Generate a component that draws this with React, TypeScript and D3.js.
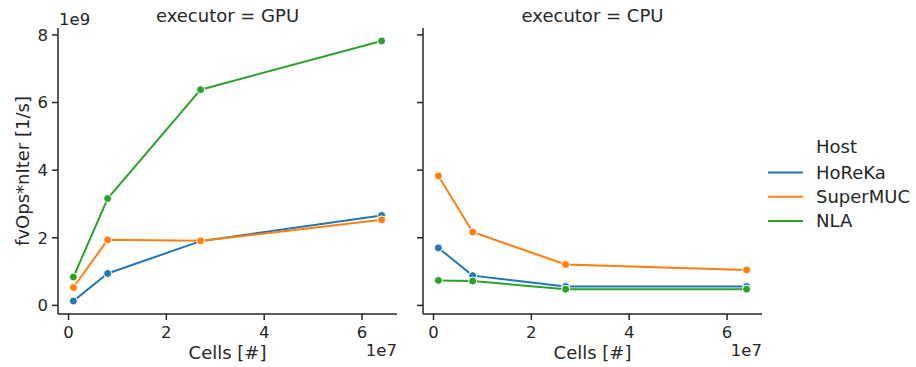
import React from "react";
import * as d3 from "d3";

const cells = [1e6, 8e6, 2.7e7, 6.4e7];
const hosts = ["HoReKa", "SuperMUC", "NLA"];
const colors = ["#1f77b4", "#ff7f0e", "#2ca02c"];
const gpuHoReKa = [0.13e9, 0.945e9, 1.9e9, 2.66e9];
const gpuSuperMUC = [0.53e9, 1.94e9, 1.91e9, 2.53e9];
const gpuNLA = [0.84e9, 3.16e9, 6.38e9, 7.82e9];
const cpuHoReKa = [1.7e9, 0.88e9, 0.56e9, 0.56e9];
const cpuSuperMUC = [3.83e9, 2.17e9, 1.21e9, 1.05e9];
const cpuNLA = [0.74e9, 0.72e9, 0.48e9, 0.48e9];
const xTicks = [0, 2e7, 4e7, 6e7];
const yTicks = [0, 2e9, 4e9, 6e9, 8e9];

const panels = [
  { title: "executor = GPU", left: 58, right: 397, series: [gpuHoReKa, gpuSuperMUC, gpuNLA], showY: true },
  { title: "executor = CPU", left: 423, right: 762, series: [cpuHoReKa, cpuSuperMUC, cpuNLA], showY: false },
];

const W = 916;
const H = 367;
const top = 28;
const bottom = 314;
const ink = "#262626";
const font = "DejaVu Sans, sans-serif";
const tickFs = 16.5;
const labelFs = 18;

const App = () => {
  const all = [...gpuHoReKa, ...gpuSuperMUC, ...gpuNLA, ...cpuHoReKa, ...cpuSuperMUC, ...cpuNLA];
  const [ymin, ymax] = d3.extent(all) as [number, number];
  const ypad = (ymax - ymin) * 0.05;
  const yScale = d3.scaleLinear().domain([ymin - ypad, ymax + ypad]).range([bottom, top]);
  const [xmin, xmax] = d3.extent(cells) as [number, number];
  const xpad = (xmax - xmin) * 0.05;

  return (
    <svg width={W} height={H} style={{ position: "absolute", left: 0, top: 0, background: "white" }} fontFamily={font}>
      {panels.map((p, pi) => {
        const xScale = d3.scaleLinear().domain([xmin - xpad, xmax + xpad]).range([p.left, p.right]);
        const line = d3
          .line<number>()
          .x((d, i) => xScale(cells[i]))
          .y((d) => yScale(d));
        const cx = (p.left + p.right) / 2;
        return (
          <g key={pi}>
            <text x={cx} y={21.5} textAnchor="middle" fontSize={labelFs} fill={ink}>
              {p.title}
            </text>
            {/* spines */}
            <line x1={p.left} x2={p.left} y1={top} y2={bottom} stroke={ink} strokeWidth={1.5} />
            <line x1={p.left} x2={p.right} y1={bottom} y2={bottom} stroke={ink} strokeWidth={1.5} />
            {yTicks.map((t) => (
              <g key={t}>
                <line x1={p.left - 6} x2={p.left} y1={yScale(t)} y2={yScale(t)} stroke={ink} strokeWidth={1.5} />
                {p.showY && (
                  <text x={p.left - 10} y={yScale(t)} dy="0.36em" textAnchor="end" fontSize={tickFs} fill={ink}>
                    {t / 1e9}
                  </text>
                )}
              </g>
            ))}
            {xTicks.map((t) => (
              <g key={t}>
                <line x1={xScale(t)} x2={xScale(t)} y1={bottom} y2={bottom + 6} stroke={ink} strokeWidth={1.5} />
                <text x={xScale(t)} y={337.5} textAnchor="middle" fontSize={tickFs} fill={ink}>
                  {t / 1e7}
                </text>
              </g>
            ))}
            <text x={cx} y={359} textAnchor="middle" fontSize={labelFs} fill={ink}>
              Cells [#]
            </text>
            <text x={p.right} y={356} textAnchor="end" fontSize={tickFs} fill={ink}>
              1e7
            </text>
            {p.showY && (
              <>
                <text x={p.left + 1} y={25} fontSize={tickFs} fill={ink}>
                  1e9
                </text>
                <text
                  transform={`translate(28.5,${(top + bottom) / 2}) rotate(-90)`}
                  textAnchor="middle"
                  fontSize={labelFs}
                  fill={ink}
                >
                  fvOps*nIter [1/s]
                </text>
              </>
            )}
            {p.series.map((s, si) => (
              <g key={si}>
                <path d={line(s) ?? ""} fill="none" stroke={colors[si]} strokeWidth={2} />
                {s.map((v, i) => (
                  <circle key={i} cx={xScale(cells[i])} cy={yScale(v)} r={4} fill={colors[si]} stroke="white" strokeWidth={1} />
                ))}
              </g>
            ))}
          </g>
        );
      })}
      <g>
        <text x={816} y={153} fontSize={labelFs} fill={ink}>
          Host
        </text>
        {hosts.map((h, i) => (
          <g key={h}>
            <line x1={768} x2={803} y1={172.5 + i * 24.2} y2={172.5 + i * 24.2} stroke={colors[i]} strokeWidth={2} />
            <text x={816} y={172.5 + i * 24.2} dy="0.36em" fontSize={labelFs} fill={ink}>
              {h}
            </text>
          </g>
        ))}
      </g>
    </svg>
  );
};

export default App;
